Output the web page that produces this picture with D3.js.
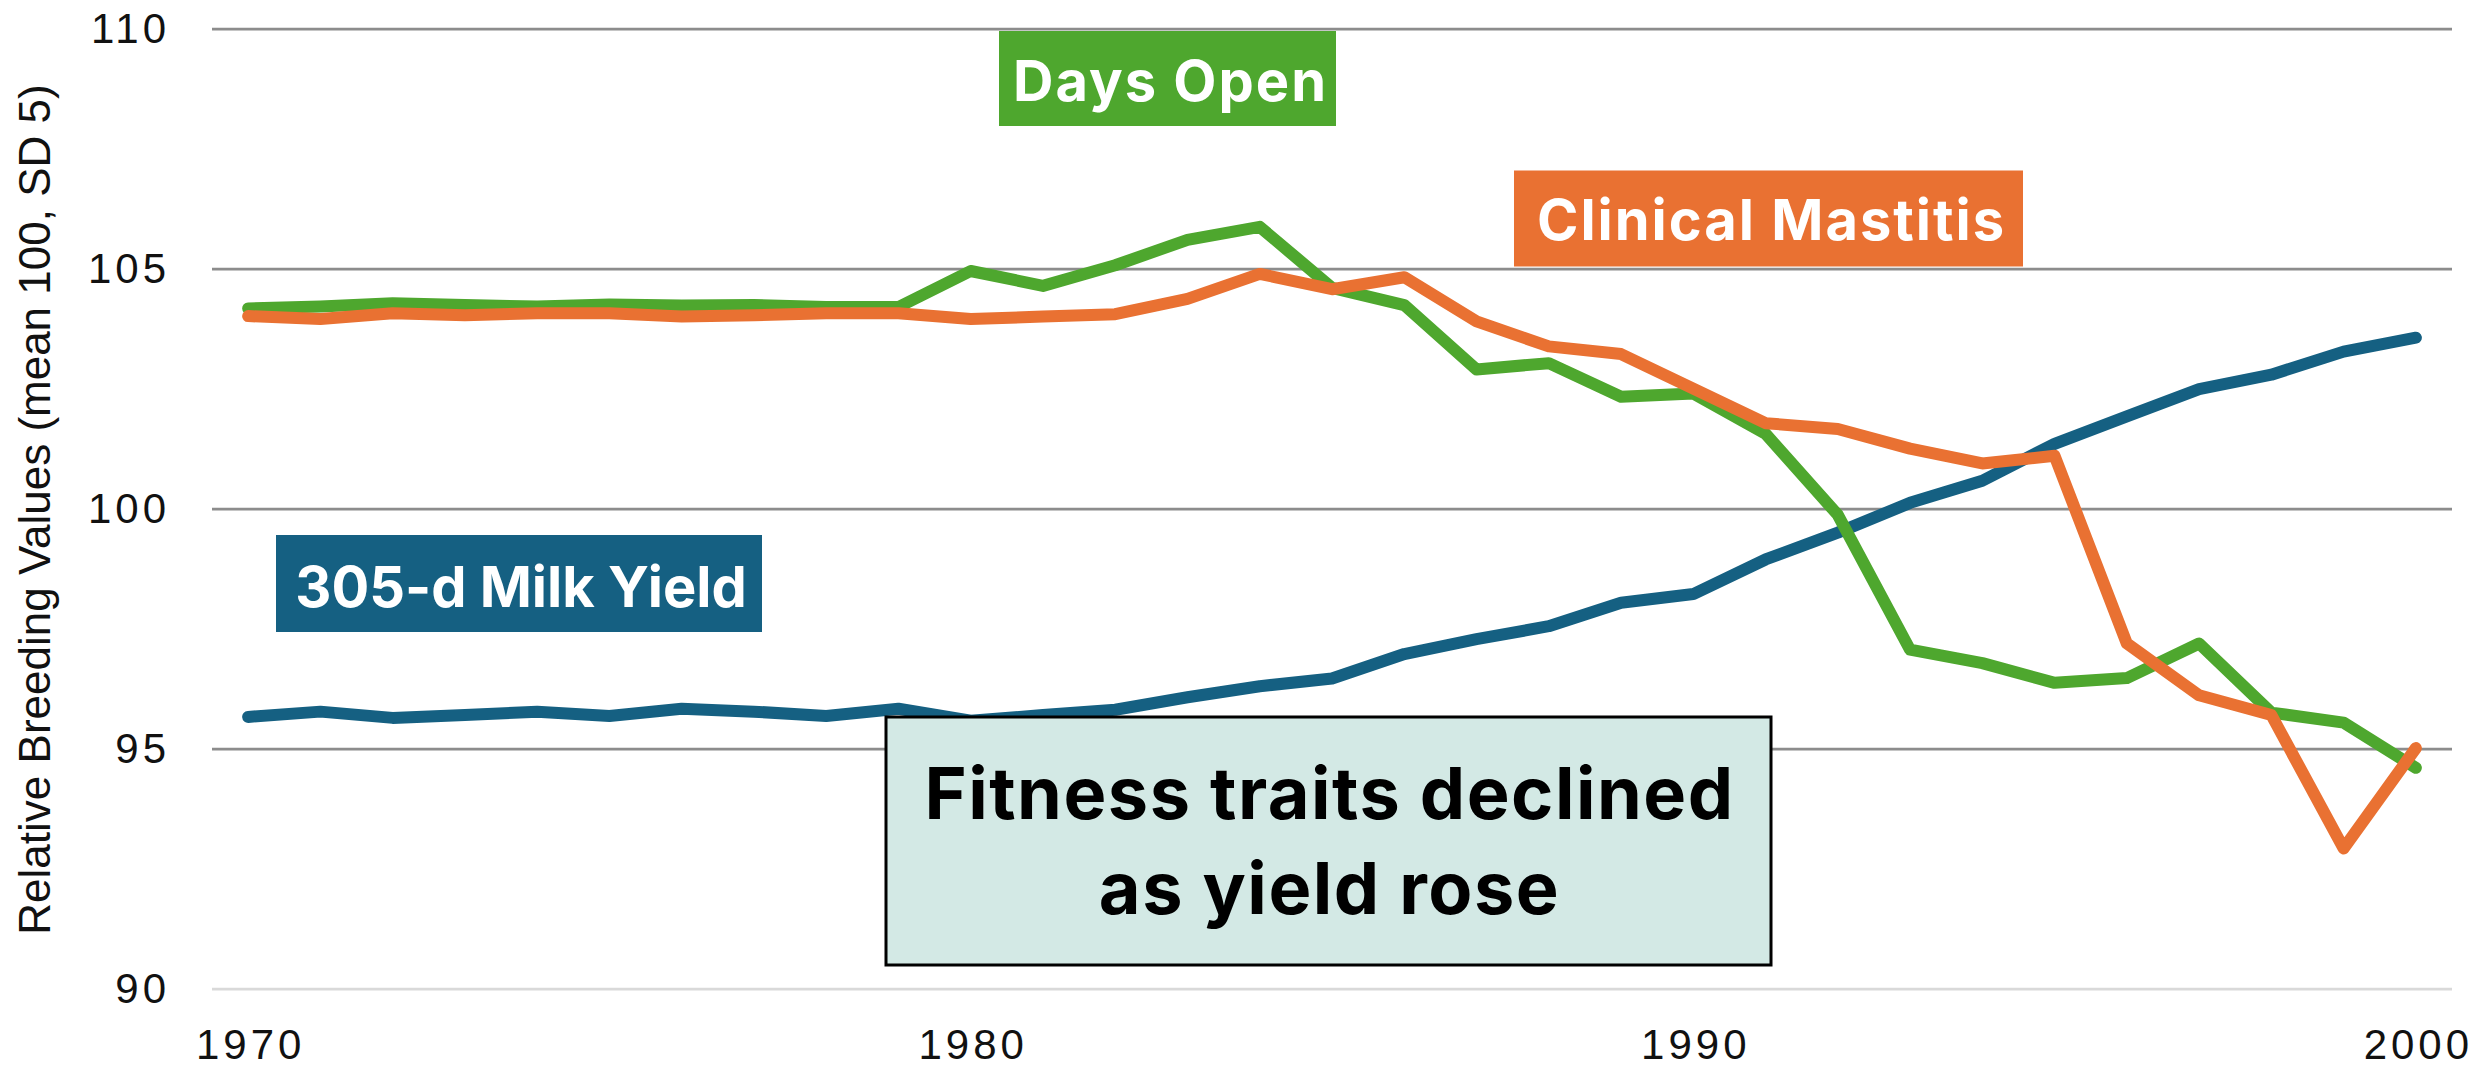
<!DOCTYPE html>
<html>
<head>
<meta charset="utf-8">
<script src="https://cdn.jsdelivr.net/npm/d3@7"></script>
<style>
  html, body { margin: 0; padding: 0; background: #ffffff; }
  svg { display: block; }
</style>
</head>
<body>
<svg id="chart" width="2474" height="1069"></svg>
<script>
// ---- data ----
const years = [1970,1971,1972,1973,1974,1975,1976,1977,1978,1979,1980,1981,1982,1983,1984,1985,1986,1987,1988,1989,1990,1991,1992,1993,1994,1995,1996,1997,1998,1999,2000];
const milkYield = [95.66,95.77,95.64,95.70,95.77,95.68,95.83,95.77,95.68,95.83,95.58,95.70,95.81,96.07,96.30,96.46,96.97,97.28,97.55,98.04,98.22,98.94,99.50,100.12,100.58,101.35,101.92,102.49,102.79,103.27,103.56];
const daysOpen = [104.17,104.21,104.28,104.24,104.21,104.25,104.23,104.24,104.20,104.20,104.95,104.64,105.07,105.60,105.87,104.60,104.24,102.90,103.03,102.33,102.40,101.56,99.87,97.06,96.78,96.37,96.47,97.19,95.75,95.54,94.60];
const clinicalMastitis = [104.01,103.95,104.07,104.03,104.07,104.07,104.00,104.03,104.07,104.07,103.95,104.00,104.05,104.37,104.89,104.57,104.82,103.90,103.38,103.22,102.50,101.78,101.66,101.25,100.94,101.10,97.19,96.11,95.70,92.92,95.01];
const seriesNames = ["305-d Milk Yield", "Days Open", "Clinical Mastitis"];
const yTicks = [90, 95, 100, 105, 110];
const xTickLabels = [1970, 1980, 1990, 2000];
const yAxisTitle = "Relative Breeding Values (mean 100, SD 5)";
const noteLines = ["Fitness traits declined", "as yield rose"];

// ---- layout ----
const svg = d3.select("#chart");
const plot = { left: 212, right: 2452, top: 28.6, bottom: 988.6 };
const colors = { milk: "#156082", days: "#4ea72e", mastitis: "#e97132" };

const x = d3.scalePoint().domain(years).range([plot.left, plot.right]).padding(0.5);
const y = d3.scaleLinear().domain([90, 110]).range([plot.bottom, plot.top]);

// gridlines + y axis labels
const yAxis = d3.axisLeft(y).tickValues(yTicks)
  .tickSize(-(plot.right - plot.left)).tickPadding(42).tickFormat(d3.format("d"));
const gy = svg.append("g").attr("transform", `translate(${plot.left},0)`).call(yAxis);
gy.select(".domain").remove();
gy.selectAll(".tick line")
  .attr("stroke", d => d === 90 ? "#d9d9d9" : "#8c8c8c")
  .attr("stroke-width", 2.6);
gy.selectAll(".tick text")
  .attr("fill", "#111")
  .style("font-family", "'Liberation Sans', Arial, sans-serif")
  .style("font-size", "42px")
  .style("letter-spacing", "4px");

// x axis labels
const xAxis = d3.axisBottom(x).tickValues(xTickLabels).tickSize(0).tickPadding(41);
const gx = svg.append("g").attr("transform", `translate(0,${plot.bottom})`).call(xAxis);
gx.select(".domain").remove();
gx.selectAll(".tick text")
  .attr("fill", "#111")
  .attr("dx", "2px")
  .style("font-family", "'Liberation Sans', Arial, sans-serif")
  .style("font-size", "42px")
  .style("letter-spacing", "4px");

// y axis title
svg.append("text")
  .attr("transform", `translate(50,${(78 + 941) / 2}) rotate(-90)`)
  .attr("text-anchor", "middle")
  .attr("fill", "#111")
  .style("font-family", "'Liberation Sans', Arial, sans-serif")
  .style("font-size", "44px")
  .text(yAxisTitle);

// lines
const line = d3.line().x((d, i) => x(years[i])).y(d => y(d));
const seriesList = [
  { values: milkYield, color: colors.milk },
  { values: daysOpen, color: colors.days },
  { values: clinicalMastitis, color: colors.mastitis }
];
svg.append("g").selectAll("path").data(seriesList).join("path")
  .attr("d", d => line(d.values))
  .attr("fill", "none")
  .attr("stroke", d => d.color)
  .attr("stroke-width", 12)
  .attr("stroke-linejoin", "round")
  .attr("stroke-linecap", "round");

// series label boxes
const labelFont = "Inter, Lato, sans-serif";
function labelBox(x0, y0, w, h, fill, text, baseline, size, ls) {
  const g = svg.append("g");
  g.append("rect").attr("x", x0).attr("y", y0).attr("width", w).attr("height", h).attr("fill", fill);
  g.append("text").attr("x", x0 + w / 2 + 2 + ls / 2).attr("y", baseline)
    .attr("text-anchor", "middle").attr("fill", "#ffffff")
    .style("font-family", labelFont).style("font-weight", 700).style("font-size", size + "px")
    .style("letter-spacing", ls + "px")
    .text(text);
}
labelBox(999, 31, 337, 95, colors.days, seriesNames[1], 100.5, 56, 2);
labelBox(1514, 170.5, 509, 96, colors.mastitis, seriesNames[2], 240, 56, 2);
labelBox(276, 535, 486, 97, colors.milk, seriesNames[0], 607, 56, 0);

// note box
const note = svg.append("g");
note.append("rect").attr("x", 886).attr("y", 717).attr("width", 885).attr("height", 248)
  .attr("fill", "#d3e9e5").attr("stroke", "#000").attr("stroke-width", 3);
note.selectAll("text").data(noteLines).join("text")
  .attr("x", 886 + 885 / 2 + 1).attr("y", (d, i) => 819 + i * 95)
  .attr("text-anchor", "middle").attr("fill", "#000")
  .style("font-family", labelFont).style("font-weight", 700).style("font-size", "72px")
  .style("letter-spacing", "1.5px")
  .text(d => d);
</script>
</body>
</html>
